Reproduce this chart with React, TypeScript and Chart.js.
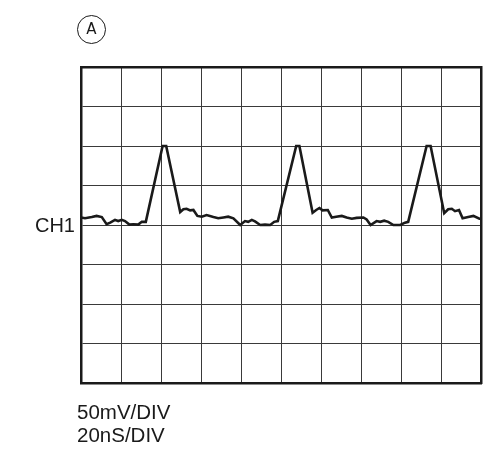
import React, { useEffect, useRef } from "react";
import { Chart, registerables } from "chart.js";

Chart.register(...registerables);

// Time in divisions (20 nS/DIV)
const timeDiv = [
  0, 0.1, 0.27, 0.39, 0.52, 0.64, 0.73, 0.85, 0.93, 1.02,
  1.1, 1.21, 1.31, 1.43, 1.52, 1.62, 2.04, 2.13, 2.48, 2.56,
  2.64, 2.73, 2.81, 2.91, 3.02, 3.14, 3.31, 3.43, 3.56, 3.68,
  3.81, 3.98, 4.1, 4.18, 4.27, 4.35, 4.48, 4.6, 4.73, 4.83,
  4.92, 5.38, 5.46, 5.79, 5.88, 5.96, 6.04, 6.17, 6.27, 6.38,
  6.52, 6.64, 6.77, 6.89, 7.06, 7.14, 7.24, 7.39, 7.48, 7.58,
  7.68, 7.81, 7.98, 8.1, 8.18, 8.64, 8.74, 9.08, 9.18, 9.27,
  9.35, 9.45, 9.54, 9.68, 9.81, 9.96, 10,
];

// Voltage in divisions (50 mV/DIV), 0 = CH1 reference line
const voltDiv = [
  0.19, 0.17, 0.2, 0.23, 0.2, 0.02, 0.06, 0.13, 0.1, 0.13,
  0.1, 0.01, 0.02, 0.01, 0.08, 0.08, 2, 2, 0.33, 0.4,
  0.41, 0.37, 0.38, 0.23, 0.21, 0.25, 0.2, 0.17, 0.19, 0.21,
  0.17, 0, 0.1, 0.08, 0.13, 0.09, 0, 0.01, 0, 0.08,
  0.1, 2, 2, 0.31, 0.38, 0.43, 0.37, 0.38, 0.19, 0.21,
  0.23, 0.19, 0.16, 0.18, 0.19, 0.14, 0, 0.1, 0.08, 0.11,
  0.08, 0, 0, 0.06, 0.08, 2, 2, 0.3, 0.4, 0.41,
  0.35, 0.38, 0.17, 0.2, 0.23, 0.16, 0.16,
];

const xDivisions = { min: 0, max: 10 };
const yDivisions = { min: -4, max: 4 };

const channelLabel = "CH1";
const voltScaleLabel = "50mV/DIV";
const timeScaleLabel = "20nS/DIV";
const panelLetter = "A";

const FONT = "'Liberation Sans', Arial, Helvetica, sans-serif";

export default function App() {
  const canvasRef = useRef<HTMLCanvasElement | null>(null);

  useEffect(() => {
    const canvas = canvasRef.current;
    if (!canvas) return;
    const points = timeDiv.map((t, i) => ({ x: t, y: voltDiv[i] }));
    const gridColor = "#3a3a3a";
    const borderColor = "#1a1a1a";
    const chart = new Chart(canvas, {
      type: "line",
      data: {
        datasets: [
          {
            data: points,
            borderColor: "#1a1a1a",
            borderWidth: 2.6,
            pointRadius: 0,
            tension: 0,
            fill: false,
          },
        ],
      },
      options: {
        animation: false,
        responsive: false,
        maintainAspectRatio: false,
        layout: { padding: { left: 81, right: 21, top: 67, bottom: 67 } },
        plugins: { legend: { display: false }, tooltip: { enabled: false } },
        scales: {
          x: {
            type: "linear",
            min: xDivisions.min,
            max: xDivisions.max,
            ticks: { display: false, stepSize: 1 },
            grid: { color: gridColor, lineWidth: 1, drawTicks: false },
            border: { display: true, color: borderColor, width: 2.5 },
          },
          y: {
            type: "linear",
            min: yDivisions.min,
            max: yDivisions.max,
            ticks: { display: false, stepSize: 1 },
            grid: { color: gridColor, lineWidth: 1, drawTicks: false },
            border: { display: true, color: borderColor, width: 2.5 },
          },
          x2: {
            type: "linear",
            position: "top",
            min: xDivisions.min,
            max: xDivisions.max,
            ticks: { display: false },
            grid: { display: false, drawTicks: false },
            border: { display: true, color: borderColor, width: 2.5 },
          },
          y2: {
            type: "linear",
            position: "right",
            min: yDivisions.min,
            max: yDivisions.max,
            ticks: { display: false },
            grid: { display: false, drawTicks: false },
            border: { display: true, color: borderColor, width: 2.5 },
          },
        },
      },
    });
    return () => chart.destroy();
  }, []);

  return (
    <div style={{ position: "absolute", left: 0, top: 0, width: 502, height: 450, background: "#fff" }}>
      <canvas ref={canvasRef} width={502} height={450} style={{ position: "absolute", left: 0, top: 0 }} />
      <div
        style={{
          position: "absolute",
          left: 77,
          top: 15,
          width: 29,
          height: 29,
          boxSizing: "border-box",
          border: "1.8px solid #1a1a1a",
          borderRadius: "50%",
          display: "flex",
          alignItems: "center",
          justifyContent: "center",
          fontFamily: "'DejaVu Sans', sans-serif",
          fontSize: 15,
          color: "#1a1a1a",
          lineHeight: 1,
        }}
      >
        {panelLetter}
      </div>
      <div
        style={{
          position: "absolute",
          right: 502 - 75,
          top: 214.5,
          fontFamily: FONT,
          fontSize: 20,
          lineHeight: 1,
          color: "#1a1a1a",
          whiteSpace: "nowrap",
        }}
      >
        {channelLabel}
      </div>
      <div
        style={{
          position: "absolute",
          left: 77,
          top: 399.5,
          fontFamily: FONT,
          fontSize: 20.5,
          lineHeight: "23px",
          color: "#1a1a1a",
          whiteSpace: "nowrap",
        }}
      >
        <div>{voltScaleLabel}</div>
        <div>{timeScaleLabel}</div>
      </div>
    </div>
  );
}
